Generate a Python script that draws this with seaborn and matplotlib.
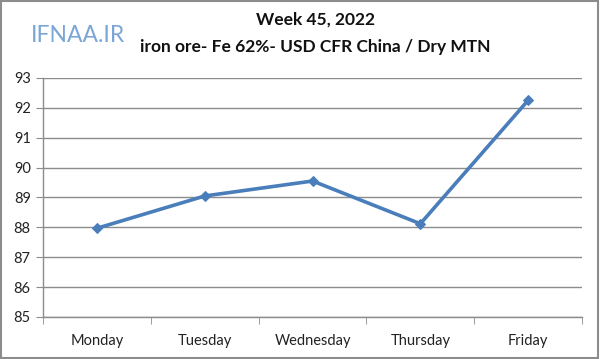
import numpy as np
import pandas as pd
import seaborn as sns
import matplotlib
matplotlib.use("Agg")
import matplotlib.pyplot as plt
from matplotlib.patches import Rectangle

days = ["Monday", "Tuesday", "Wednesday", "Thursday", "Friday"]
prices = [87.97, 89.05, 89.55, 88.12, 92.25]
yticks = [85, 86, 87, 88, 89, 90, 91, 92, 93]

sns.set_style("white")
plt.rcParams['font.family'] = ['Lato', 'DejaVu Sans']

df = pd.DataFrame({"pos": np.arange(len(days)), "price": prices})

fig = plt.figure(figsize=(6, 3.59), dpi=100)
ax = fig.add_axes([0.072, 0.117, 0.898, 0.666])

sns.lineplot(data=df, x="pos", y="price", ax=ax, color="#4a7ebb", linewidth=2.6,
             marker="D", markersize=5.5, markeredgecolor="#4a7ebb")

ax.set_xlim(-0.5, len(days) - 0.5)
ax.set_ylim(85, 93)
ax.set_yticks(yticks)
ax.set_xticks(range(len(days)))
ax.set_xticklabels(days)
ax.set_xticks(np.arange(-0.5, len(days)), minor=True)
ax.set_xlabel("")
ax.set_ylabel("")
ax.grid(axis="y", color="#8c8c8c", linewidth=1)
ax.set_axisbelow(True)
for s in ["top", "right"]:
    ax.spines[s].set_visible(False)
for s in ["left", "bottom"]:
    ax.spines[s].set_color("#8c8c8c")
    ax.spines[s].set_linewidth(1)
ax.tick_params(axis="x", which="major", length=0, pad=12, labelsize=10.5, colors="#222222")
ax.tick_params(axis="x", which="minor", length=5, color="#8c8c8c", direction="out", bottom=True)
ax.tick_params(axis="y", length=5, color="#8c8c8c", direction="out", left=True, labelsize=10.5, colors="#222222", pad=4)

fig.text(0.525, 0.945, "Week 45, 2022", ha="center", va="center", fontsize=12.5, fontweight="bold", color="#111111")
fig.text(0.525, 0.87, "iron ore- Fe 62%- USD CFR China / Dry MTN", ha="center", va="center",
         fontsize=12.5, fontweight="bold", color="#111111")
fig.text(0.13, 0.9, "IFNAA.IR", ha="center", va="center", fontsize=16.5, color="#7aa6d6")

fig.patches.append(Rectangle((0.002, 0.003), 0.995, 0.993, transform=fig.transFigure,
                             fill=False, edgecolor="#8c8c8c", linewidth=1.5))

plt.savefig("out.png", dpi=100)
